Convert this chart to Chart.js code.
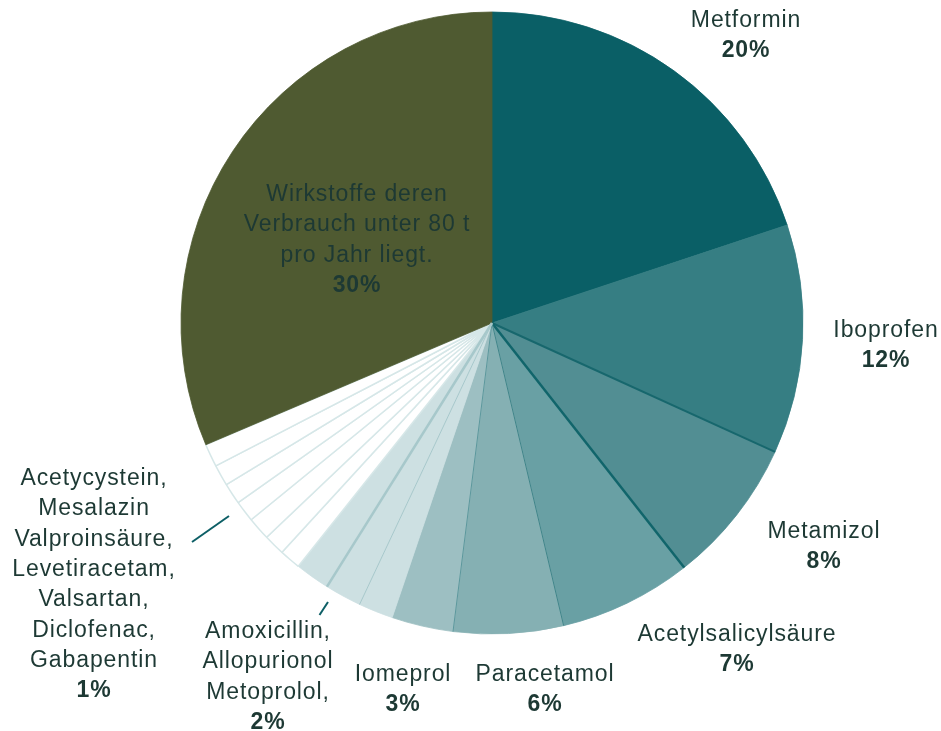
<!DOCTYPE html>
<html>
<head>
<meta charset="utf-8">
<script src="https://cdn.jsdelivr.net/npm/chart.js@4/dist/chart.umd.min.js"></script>
<style>
  html, body { margin: 0; padding: 0; background: #ffffff; }
  #wrap { width: 941px; height: 731px; }
</style>
</head>
<body>
<div id="wrap"><canvas id="c" width="941" height="731"></canvas></div>
<script>
// ---------- DATA ----------
const categories = [
  "Metformin", "Iboprofen", "Metamizol", "Acetylsalicylsäure", "Paracetamol", "Iomeprol",
  "Amoxicillin", "Allopurionol", "Metoprolol",
  "Acetycystein", "Mesalazin", "Valproinsäure", "Levetiracetam", "Valsartan", "Diclofenac", "Gabapentin",
  "Wirkstoffe deren Verbrauch unter 80 t pro Jahr liegt."
];
// slice shares (percent)
const shares = [19.9, 11.9, 7.6, 6.9, 5.7, 3.2, 1.8, 1.9, 1.8, 1.1, 1.1, 1.2, 1.1, 1.1, 1.1, 1.2, 31.4];
// label texts shown on the chart
const labelGroups = [
  ["Metformin"],
  ["Iboprofen"],
  ["Metamizol"],
  ["Acetylsalicylsäure"],
  ["Paracetamol"],
  ["Iomeprol"],
  ["Amoxicillin,", "Allopurionol", "Metoprolol,"],
  ["Acetycystein,", "Mesalazin", "Valproinsäure,", "Levetiracetam,", "Valsartan,", "Diclofenac,", "Gabapentin"],
  ["Wirkstoffe deren", "Verbrauch unter 80 t", "pro Jahr liegt."]
];
const labelPercents = ["20%", "12%", "8%", "7%", "6%", "3%", "2%", "1%", "30%"];

// ---------- STYLES ----------
const sliceColors = [
  "#0a5f66", "#367e83", "#528e93", "#69a0a4", "#85b0b3", "#9dbfc2",
  "#cde0e2", "#cde0e2", "#cde0e2",
  "#ffffff", "#ffffff", "#ffffff", "#ffffff", "#ffffff", "#ffffff", "#ffffff",
  "#4f5a31"
];
const sliceBorderColors = sliceColors.map(c => c === "#ffffff" ? "#d6e7e8" : c);
const sliceBorderWidths = sliceColors.map(c => c === "#ffffff" ? 1.5 : 0.8);
// radial separator at the start of each slice: [color, width] or null
const separators = [
  null, null, ["#17676d", 2], ["#11656b", 2.5], ["#3f8489", 1], ["#5b979c", 1],
  null, ["#a7c8cb", 1], ["#a7c8cb", 2.5],
  null, null, null, null, null, null, null,
  null
];
// text layout: [centerX, first baseline]
const labelPos = [
  [746, 27], [886, 337], [824, 538], [737, 641], [545, 681], [403, 681],
  [268, 638], [94, 485], [357, 201]
];
const lineGap = 30.3;
const textColor = "#1d3934";
const leaderLines = [
  [[192, 542], [229, 516]],
  [[319.5, 615], [328, 602]]
];

const labelPlugin = {
  id: "customLabels",
  afterDatasetsDraw(chart) {
    const ctx = chart.ctx;
    const meta = chart.getDatasetMeta(0);
    ctx.save();
    // separators computed from arc geometry
    meta.data.forEach((arc, i) => {
      const s = separators[i];
      if (!s) return;
      const p = arc.getProps(["x", "y", "startAngle", "outerRadius"], true);
      ctx.beginPath();
      ctx.strokeStyle = s[0];
      ctx.lineWidth = s[1];
      ctx.moveTo(p.x, p.y);
      ctx.lineTo(p.x + Math.cos(p.startAngle) * p.outerRadius, p.y + Math.sin(p.startAngle) * p.outerRadius);
      ctx.stroke();
    });
    // leader lines
    ctx.strokeStyle = "#0d5f66";
    ctx.lineWidth = 2;
    leaderLines.forEach(l => {
      ctx.beginPath();
      ctx.moveTo(l[0][0], l[0][1]);
      ctx.lineTo(l[1][0], l[1][1]);
      ctx.stroke();
    });
    // labels
    ctx.fillStyle = textColor;
    ctx.textAlign = "center";
    ctx.textBaseline = "alphabetic";
    try { ctx.letterSpacing = "0.9px"; } catch (e) {}
    labelGroups.forEach((lines, g) => {
      const [x, y0] = labelPos[g];
      ctx.font = "23px 'Liberation Sans', Arial, sans-serif";
      lines.forEach((t, k) => ctx.fillText(t, x, y0 + k * lineGap));
      ctx.font = "bold 23px 'Liberation Sans', Arial, sans-serif";
      ctx.fillText(labelPercents[g], x, y0 + lines.length * lineGap);
    });
    ctx.restore();
  }
};

new Chart(document.getElementById("c"), {
  type: "pie",
  data: {
    labels: categories,
    datasets: [{
      data: shares,
      backgroundColor: sliceColors,
      borderColor: sliceBorderColors,
      borderWidth: sliceBorderWidths,
      hoverOffset: 0,
      offset: 0,
      radius: 311
    }]
  },
  options: {
    responsive: false,
    animation: false,
    events: [],
    devicePixelRatio: 1,
    layout: { padding: { left: 43, right: 0, top: 0, bottom: 85 } },
    plugins: { legend: { display: false }, tooltip: { enabled: false } }
  },
  plugins: [labelPlugin]
});
</script>
</body>
</html>
